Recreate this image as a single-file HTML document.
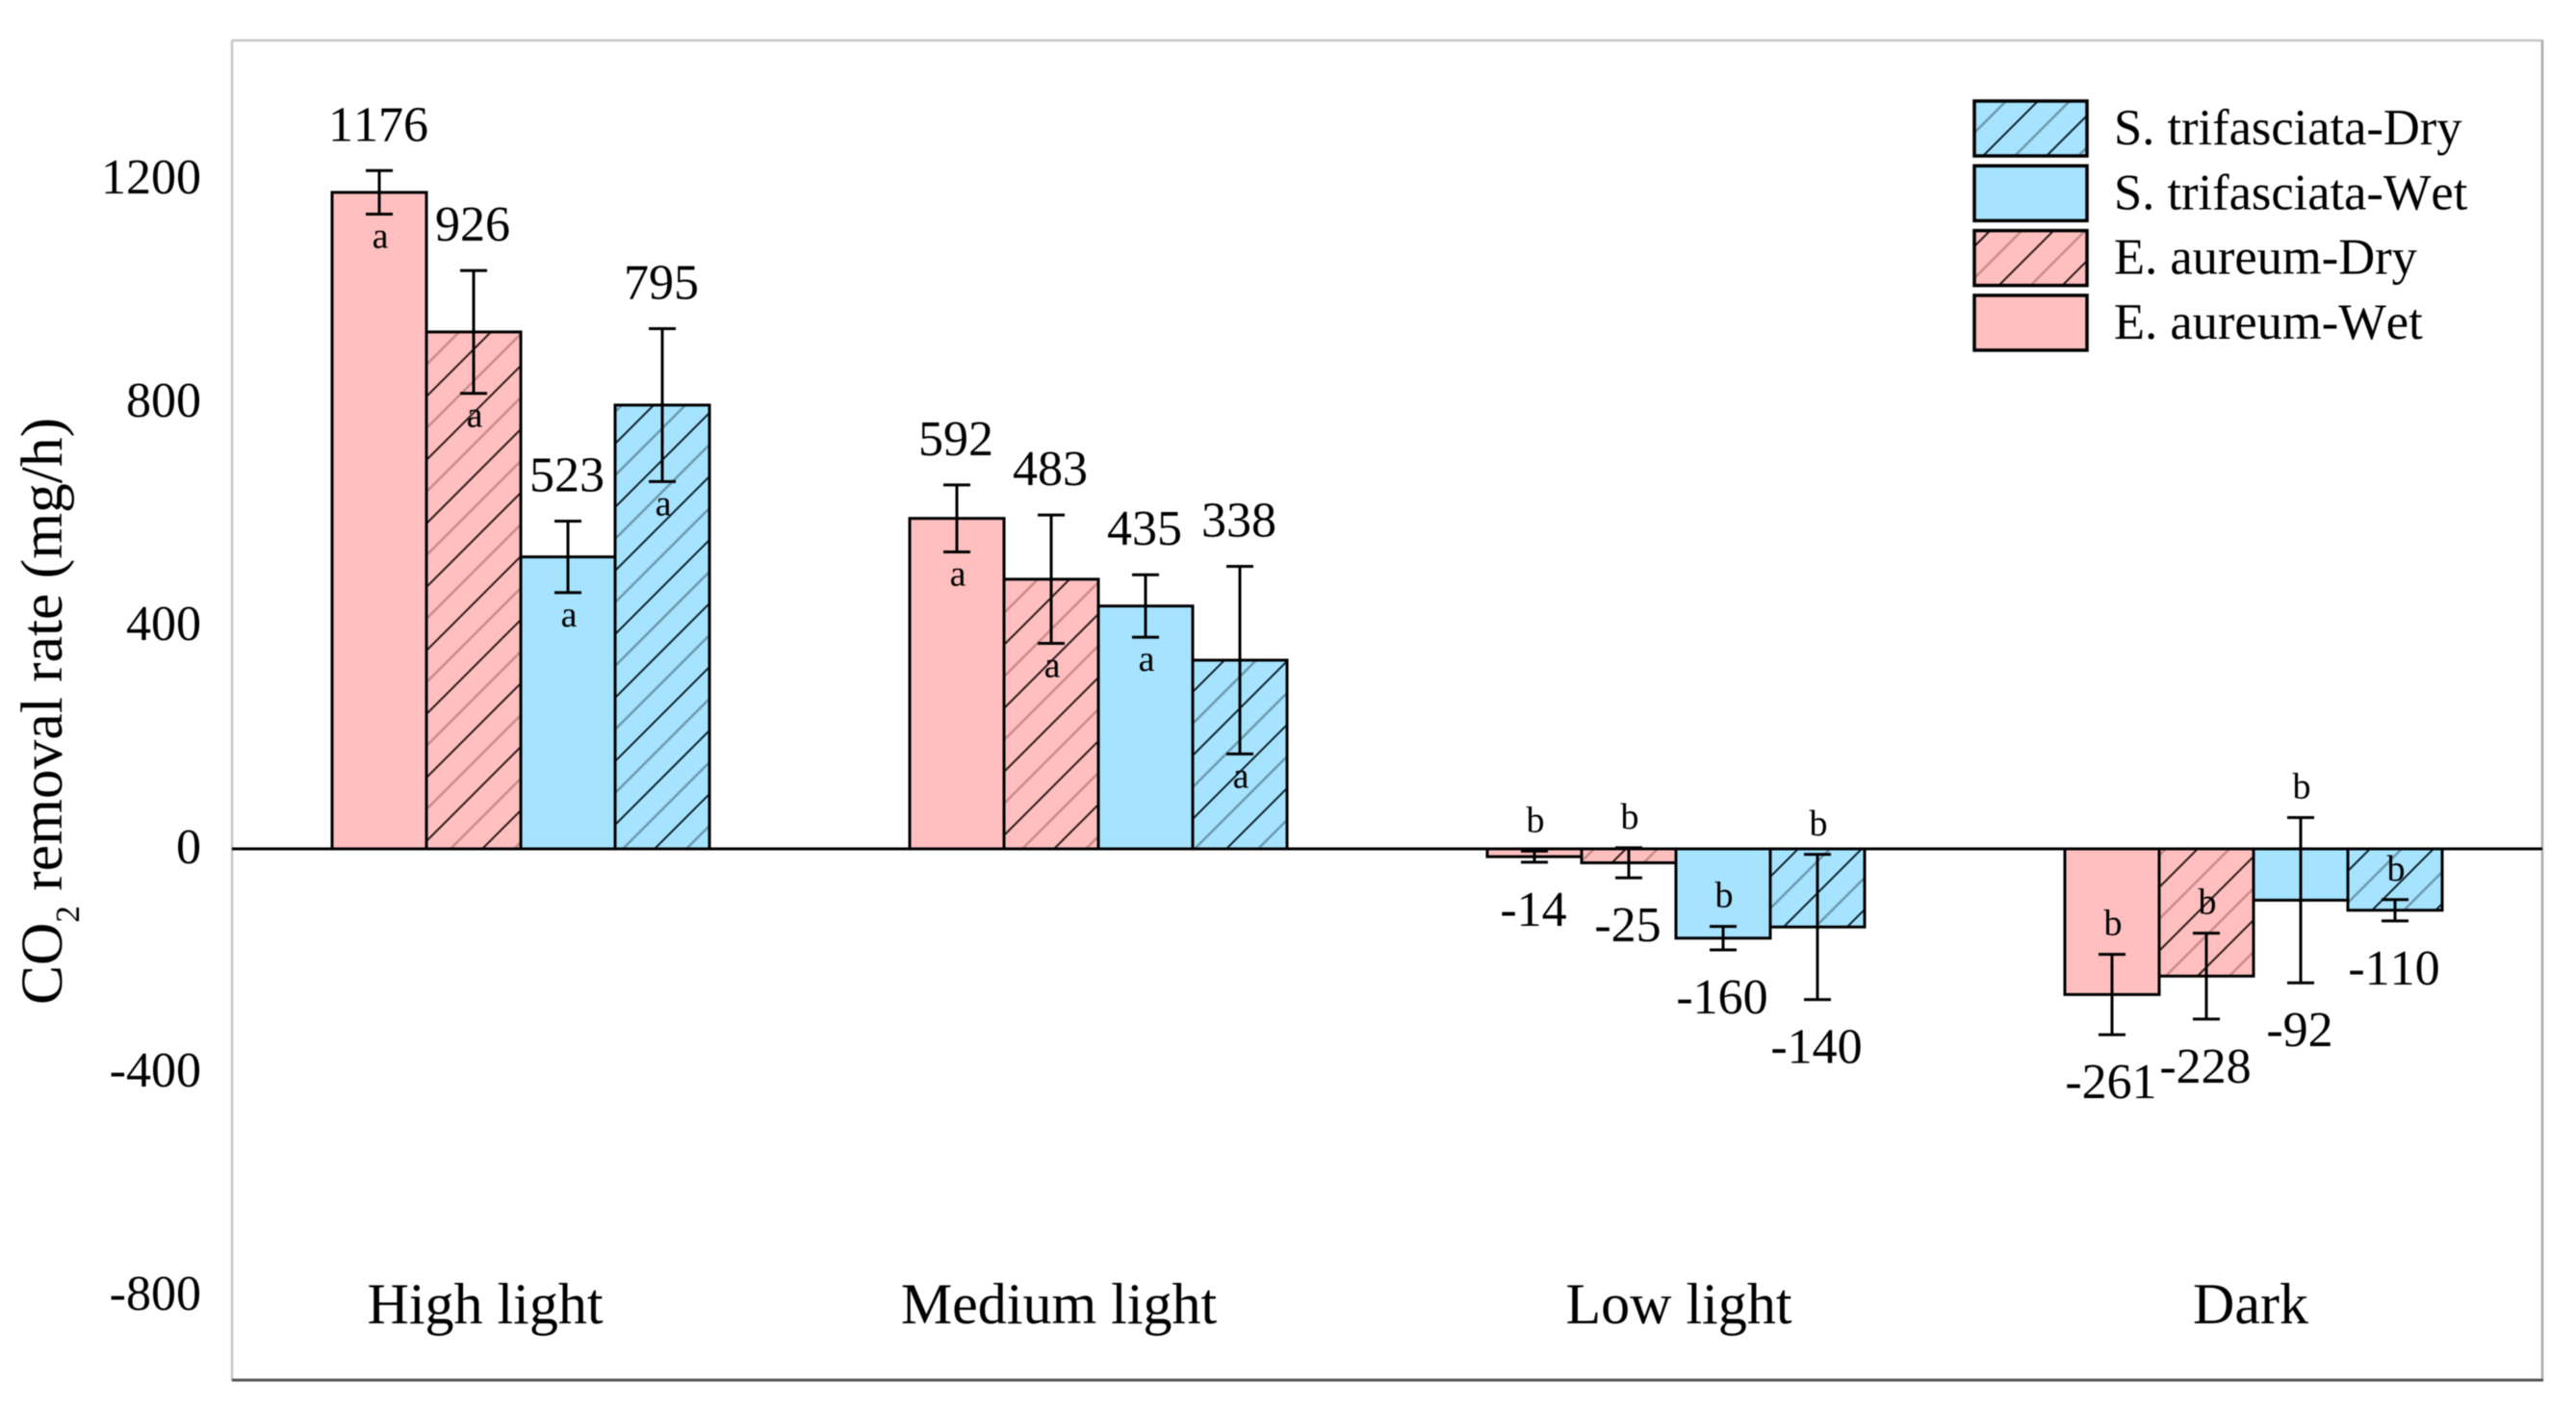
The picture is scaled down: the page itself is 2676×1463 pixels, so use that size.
<!DOCTYPE html>
<html lang="en">
<head>
<meta charset="utf-8">
<title>CO2 removal rate chart</title>
<style>
html,body{margin:0;padding:0;background:#fff;width:2676px;height:1463px;overflow:hidden}
svg{display:block;filter:blur(0.6px)}
text{font-family:"Liberation Serif",serif;fill:#000;font-kerning:none}
</style>
</head>
<body>
<svg id="chart" xmlns="http://www.w3.org/2000/svg" width="2676" height="1463" viewBox="0 0 2676 1463">
  <defs>
    <pattern id="hatch-pink" patternUnits="userSpaceOnUse" width="66" height="66" patternTransform="translate(-3 0)">
      <path d="M-2 2L2 -2M0 66L66 0M64 68L68 64" stroke="#2a1a1a" stroke-width="2" fill="none"/>
      <path d="M-2 35L35 -2M31 68L68 31" stroke="#c98a8a" stroke-width="2.4" fill="none"/>
    </pattern>
    <pattern id="hatch-blue" patternUnits="userSpaceOnUse" width="66" height="66" patternTransform="translate(-22 0)">
      <path d="M-2 2L2 -2M0 66L66 0M64 68L68 64" stroke="#10222a" stroke-width="2" fill="none"/>
      <path d="M-2 35L35 -2M31 68L68 31" stroke="#6b99ab" stroke-width="2.4" fill="none"/>
    </pattern>
  </defs>
  <rect x="0" y="0" width="2676" height="1463" fill="#fff"/>
  <g>
    <line x1="241" y1="42" x2="2642" y2="42" stroke="#c6c6c6" stroke-width="2.5"/>
    <line x1="241" y1="42" x2="241" y2="1435" stroke="#c6c6c6" stroke-width="2.5"/>
    <line x1="2641" y1="42" x2="2641" y2="1435" stroke="#aaaaaa" stroke-width="2.5"/>
    <line x1="241" y1="1434" x2="2642" y2="1434" stroke="#555555" stroke-width="3"/>
  </g>
  <g id="bars"></g>
  <line x1="241" y1="882" x2="2641" y2="882" stroke="#000" stroke-width="3"/>
  <g id="errors"></g>
  <g id="labels"></g>
  <g id="yticks"></g>
  <g id="cats"></g>
  <text transform="translate(64 1044) rotate(-90)" font-size="61.5">CO<tspan font-size="35" dy="18">2</tspan><tspan dy="-18"> removal rate (mg/h)</tspan></text>
  <g id="legend"></g>
</svg>
<script>
const categories = ['High light', 'Medium light', 'Low light', 'Dark'];
const categoryCenters = [504, 1100, 1744, 2338];
const groupLetters = ['a', 'a', 'b', 'b'];
const yTicks = [1200, 800, 400, 0, -400, -800];

const seriesNames = ['E. aureum-Wet', 'E. aureum-Dry', 'S. trifasciata-Wet', 'S. trifasciata-Dry'];
const legendOrder = [3, 2, 1, 0];

const aureumWet = [1176, 592, -14, -261];
const aureumDry = [926, 483, -25, -228];
const trifasciataWet = [523, 435, -160, -92];
const trifasciataDry = [795, 338, -140, -110];

const aureumWetErr = [39, 60, 10, 72];
const aureumDryErr = [110, 115, 27, 77];
const trifasciataWetErr = [64, 56, 21, 148];
const trifasciataDryErr = [137, 168, 130, 19];

const seriesValues = [aureumWet, aureumDry, trifasciataWet, trifasciataDry];
const seriesErrors = [aureumWetErr, aureumDryErr, trifasciataWetErr, trifasciataDryErr];
const seriesFills = ['#ffbfbf', 'url(#hatch-pink)', '#a6e3ff', 'url(#hatch-blue)'];

const NS = 'http://www.w3.org/2000/svg';
const ZERO_Y = 882, PX_PER_UNIT = 0.58, GROUP0 = 345, GROUP_STEP = 600, BAR_W = 98;
function yScale(v) { return ZERO_Y - v * PX_PER_UNIT; }
function xBand(g, s) { return GROUP0 + g * GROUP_STEP + s * BAR_W; }
function make(tag, attrs, parent) {
  const el = document.createElementNS(NS, tag);
  for (const k in attrs) el.setAttribute(k, attrs[k]);
  parent.appendChild(el);
  return el;
}
const barsG = document.getElementById('bars');
const errG = document.getElementById('errors');
const labG = document.getElementById('labels');
const tickG = document.getElementById('yticks');
const catG = document.getElementById('cats');
const legG = document.getElementById('legend');

seriesValues.forEach(function (vals, s) {
  vals.forEach(function (v, g) {
    const x = xBand(g, s);
    const y0 = yScale(Math.max(v, 0));
    const y1 = yScale(Math.min(v, 0));
    if (s === 1 || s === 3) {
      const base = make('rect', { x: x, y: y0, width: BAR_W, height: y1 - y0, fill: s === 1 ? '#ffbfbf' : '#a6e3ff' }, barsG);
      
      
    }
    const bar = make('rect', { x: x, y: y0, width: BAR_W, height: y1 - y0, fill: seriesFills[s], stroke: '#000', 'stroke-width': 3 }, barsG);
    
    

    const cx = x + BAR_W / 2;
    const e = seriesErrors[s][g];
    const top = yScale(v + e), bot = yScale(v - e);
    const stem = make('line', { x1: cx, x2: cx, y1: top, y2: bot, stroke: '#000', 'stroke-width': 3 }, errG);
    
    
    [top, bot].forEach(function (yy) {
      const cap = make('line', { x1: cx - 14, x2: cx + 14, y1: yy, y2: yy, stroke: '#000', 'stroke-width': 3 }, errG);
      
      
    });

    const valueY = v >= 0 ? top - 31 : bot + 66;
    const valueLabel = make('text', { x: cx - 1, y: valueY, 'font-size': 52, 'text-anchor': 'middle' }, labG);
    valueLabel.textContent = String(v);
    
    

    const letterY = v >= 0 ? bot + 35 : top - 20;
    const letter = make('text', { x: cx + 1, y: letterY, 'font-size': 38, 'text-anchor': 'middle' }, labG);
    letter.textContent = groupLetters[g];
    
    
  });
});

yTicks.forEach(function (t) {
  const label = make('text', { x: 209, y: yScale(t) + 15, 'font-size': 52, 'text-anchor': 'end' }, tickG);
  label.textContent = String(t);
  
  
});

categories.forEach(function (c, i) {
  const label = make('text', { x: categoryCenters[i], y: 1375, 'font-size': 60, 'text-anchor': 'middle' }, catG);
  label.textContent = c;
  
  
});

legendOrder.forEach(function (s, row) {
  const top = 105 + row * 67.3;
  if (s === 1 || s === 3) {
    const base = make('rect', { x: 2051, y: top, width: 117, height: 57, fill: s === 1 ? '#ffbfbf' : '#a6e3ff' }, legG);
    
    
  }
  const sw = make('rect', { x: 2051, y: top, width: 117, height: 57, fill: seriesFills[s], stroke: '#000', 'stroke-width': 3.5 }, legG);
  
  
  const label = make('text', { x: 2196, y: top + 45, 'font-size': 52.5 }, legG);
  label.textContent = seriesNames[s];
  
  
});
</script>
</body>
</html>
